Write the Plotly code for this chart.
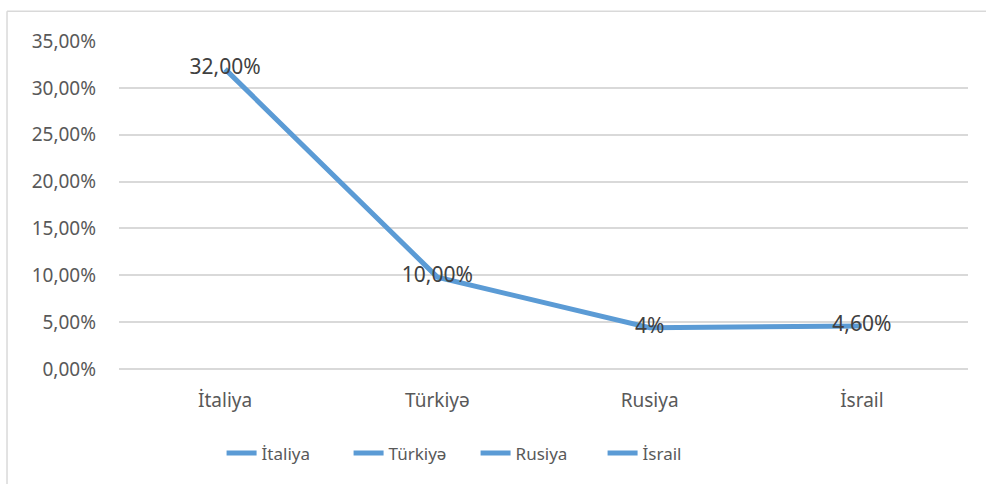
import plotly.graph_objects as go

categories = ["İtaliya", "Türkiyə", "Rusiya", "İsrail"]
values = [32.0, 9.8, 4.4, 4.6]
value_labels = ["32,00%", "10,00%", "4%", "4,60%"]
y_ticks = [0, 5, 10, 15, 20, 25, 30, 35]
y_tick_labels = ["0,00%", "5,00%", "10,00%", "15,00%", "20,00%", "25,00%", "30,00%", "35,00%"]

BLUE = "#5b9bd5"
FONT = "Noto Sans"

fig = go.Figure()
fig.add_trace(go.Scatter(
    x=categories, y=values, mode="lines+text", name=categories[0],
    text=value_labels, textposition="middle center",
    textfont=dict(family=FONT, size=21, color="#404040"),
    line=dict(color=BLUE, width=5), cliponaxis=False, showlegend=True,
))
for name in categories[1:]:
    fig.add_trace(go.Scatter(x=[None], y=[None], mode="lines", name=name,
                             line=dict(color=BLUE, width=5), showlegend=True))

fig.update_layout(
    width=986, height=484,
    margin=dict(l=119, r=18, t=41, b=113),
    paper_bgcolor="white", plot_bgcolor="white",
    font=dict(family=FONT, size=19, color="#595959"),
    legend=dict(orientation="h", x=0.42, xanchor="center", y=-0.2576, yanchor="middle",
                font=dict(family=FONT, size=17, color="#595959"),
                entrywidthmode="pixels", entrywidth=82, tracegroupgap=0),
    xaxis=dict(type="category", range=[-0.5, 3.5], showgrid=False, zeroline=False,
               showline=False, ticks="", ticklabelstandoff=18, automargin=False,
               tickfont=dict(family=FONT, size=19, color="#595959")),
    yaxis=dict(range=[0, 35], tickvals=y_ticks, ticktext=y_tick_labels,
               showgrid=True, gridcolor="#d9d9d9", gridwidth=1.5,
               zeroline=True, zerolinecolor="#d9d9d9", zerolinewidth=1.5,
               showline=False, ticks="", ticklabelstandoff=22, automargin=False,
               tickfont=dict(family=FONT, size=19, color="#595959")),
    shapes=[
        dict(type="line", xref="paper", yref="paper", x0=-0.1319, x1=1.1, y0=1.0909, y1=1.0909,
             line=dict(color="#d9d9d9", width=1.5)),
        dict(type="line", xref="paper", yref="paper", x0=-0.1319, x1=-0.1319, y0=1.0909, y1=-0.5,
             line=dict(color="#d9d9d9", width=1.5)),
    ],
)

fig.write_html(
    "out.html",
    config={"displayModeBar": False},
    post_script="document.body.style.margin='0';document.body.style.overflow='hidden';",
)
